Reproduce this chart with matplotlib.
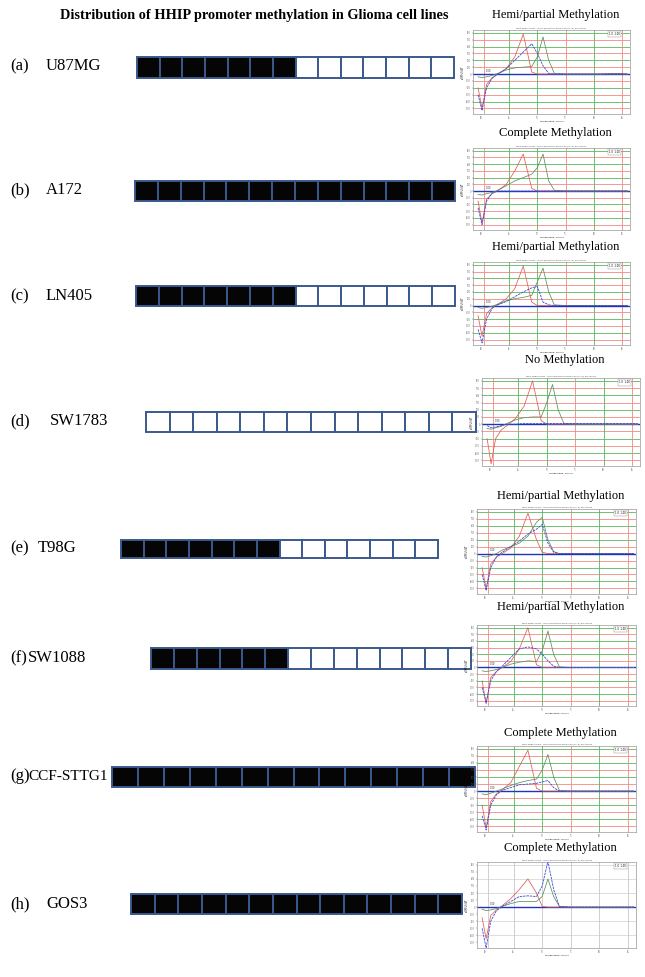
import matplotlib.pyplot as plt
from matplotlib.patches import Rectangle

plt.rcParams['font.family'] = ['Liberation Serif', 'DejaVu Serif']

# ---- data ----
panel_letters = ['(a)', '(b)', '(c)', '(d)', '(e)', '(f)', '(g)', '(h)']
cell_lines = ['U87MG', 'A172', 'LN405', 'SW1783', 'T98G', 'SW1088', 'CCF-STTG1', 'GOS3']
n_sites = 14
methylated_sites = [7, 14, 7, 0, 7, 6, 14, 14]
status = ['Hemi/partial Methylation', 'Complete Methylation', 'Hemi/partial Methylation',
          'No Methylation', 'Hemi/partial Methylation', 'Hemi/partial Methylation',
          'Complete Methylation', 'Complete Methylation']

# melt peak curves (-dF/dT), shared temperature grid
temps = [59.5, 60.2, 61.0, 62.0, 63.0, 64.5, 66.0, 67.5, 69.0, 70.0, 71.0, 72.0, 73.0, 75.0, 78.0, 81.0, 84.0, 86.0]
red_curves = [
    [-2.0, -5.0, -1.5, -0.5, 0.0, 0.8, 2.5, 5.8, 0.3, 0, 0, 0, 0, 0, 0, 0, 0.1, 0],
    [-1.5, -4.8, -1.2, -0.4, 0.1, 1.0, 3.0, 5.5, 0.4, 0, 0, 0, 0, 0, 0, 0, 0, 0],
    [-1.5, -4.5, -1.2, -0.3, 0.2, 1.0, 2.5, 5.8, 0.5, 0, 0, 0, 0, 0, 0, 0, 0, 0],
    [-2.0, -5.5, -2.0, -0.8, -0.2, 0.8, 2.5, 6.0, 0.5, 0, 0, 0, 0, 0, 0, 0, 0, 0],
    [-2.0, -5.0, -1.5, -0.5, 0.0, 0.8, 2.5, 5.8, 2.0, 0.2, 0, 0, 0, 0, 0, 0, 0, 0],
    [-2.0, -5.5, -1.5, -0.6, 0.0, 0.9, 2.8, 6.0, 0.4, 0, 0, 0, 0, 0, 0, 0, 0, 0],
    [-2.0, -5.2, -1.5, -0.4, 0.2, 1.2, 3.5, 5.8, 0.4, 0, 0, 0, 0, 0, 0, 0, 0, 0],
    [-1.5, -4.5, -1.2, -0.4, 0.2, 1.2, 2.5, 4.0, 2.0, 0.1, 0, 0, 0, 0, 0, 0, 0, 0],
]
green_curves = [
    [-0.4, -0.5, -0.4, -0.2, 0.1, 0.6, 0.9, 1.0, 1.1, 2.5, 5.4, 2.0, 0.1, 0, 0, 0, 0, 0],
    [-0.5, -0.6, -0.4, -0.2, 0.1, 0.8, 1.5, 2.0, 2.5, 3.5, 5.5, 1.5, 0.1, 0, 0, 0, 0, 0],
    [-0.3, -0.4, -0.3, -0.1, 0.2, 0.7, 1.0, 1.2, 1.5, 3.5, 5.5, 2.0, 0.1, 0, 0, 0, 0, 0],
    [-0.6, -0.7, -0.5, -0.3, 0.1, 0.6, 0.9, 1.0, 1.0, 3.0, 5.5, 2.0, 0.1, 0, 0, 0, 0, 0],
    [-0.4, -0.5, -0.3, 0.0, 0.5, 1.0, 1.5, 2.5, 4.5, 5.2, 2.0, 0.3, 0, 0, 0, 0, 0, 0],
    [-0.5, -0.6, -0.5, -0.3, 0.0, 0.5, 0.8, 1.0, 0.9, 2.5, 5.5, 2.0, 0.1, 0, 0, 0, 0, 0],
    [-0.4, -0.5, -0.3, 0.0, 0.3, 0.8, 1.2, 1.5, 1.7, 3.0, 5.2, 2.0, 0.1, 0, 0, 0, 0, 0],
    [-0.3, -0.5, -0.4, -0.2, 0.1, 0.5, 0.8, 0.8, 0.8, 1.5, 4.0, 1.5, 0.1, 0, 0, 0, 0, 0],
]
blue_curves = [
    [-3.0, -5.3, -2.0, -0.6, 0.0, 0.8, 2.0, 3.2, 4.4, 3.0, 1.2, 0.1, 0, 0, 0, 0, 0.05, 0],
    [-2.5, -5.0, -1.5, -0.3, 0, 0, 0, 0, 0, 0, 0, 0, 0, 0, 0, 0, 0, 0],
    [-3.5, -5.5, -2.0, -0.4, 0.1, 0.6, 1.3, 2.0, 2.6, 2.8, 0.5, 0.1, 0, 0, 0, 0, 0, 0],
    [-0.2, -0.5, -0.4, -0.2, 0, 0, 0.1, 0.1, 0.1, 0.1, 0.1, 0.1, 0.1, 0.1, 0.1, 0.1, 0.1, 0.1],
    [-3.0, -5.3, -2.0, -0.5, 0.2, 1.0, 1.8, 2.8, 3.5, 4.2, 1.5, 0.2, 0, 0, 0, 0, 0, 0],
    [-3.0, -5.3, -2.0, -0.6, 0.2, 1.5, 2.8, 3.1, 2.8, 2.0, 1.0, 0.2, 0, 0, 0, 0, 0, 0],
    [-3.5, -5.5, -2.0, -0.5, 0.1, 0.5, 0.9, 1.0, 1.1, 1.3, 1.5, 0.5, 0, 0, 0, 0, 0, 0],
    [-3.0, -5.8, -2.0, -0.5, 0.1, 0.8, 1.5, 1.6, 1.5, 3.0, 6.5, 2.5, 0.1, 0, 0, 0, 0, 0],
]

# ---- layout (pixels, origin top-left) ----
W, H = 645, 977
label_y = [66, 190, 296, 421, 548, 658, 776, 904]
letter_x = [10, 10, 10, 10, 10, 10, 10, 10]
name_x = [46, 46, 46, 50, 38, 28, 28, 46]
box_rows = [(137, 454, 57, 78), (135, 455, 181, 201), (136, 455, 286, 306), (146, 476, 412, 432),
            (121, 438, 540, 558), (151, 471, 648, 669), (112, 475, 767, 787), (131, 462, 894, 914)]
panel_boxes = [(473, 630, 30, 114), (473, 630, 148, 230), (473, 630, 262, 345), (482, 640, 378, 466),
               (477, 636, 509, 594), (477, 636, 625, 706), (477, 636, 746, 832), (477, 636, 862, 948)]
title_y = [15, 133, 247, 360, 496, 607, 733, 848]

fig = plt.figure(figsize=(W / 100, H / 100), dpi=100)
ov = fig.add_axes([0, 0, 1, 1])
ov.set_xlim(0, W)
ov.set_ylim(H, 0)
ov.axis('off')

ov.text(254, 15, 'Distribution of HHIP promoter methylation in Glioma cell lines',
        ha='center', va='center', fontsize=10.3, fontweight='bold')

for i in range(8):
    ov.text(letter_x[i], label_y[i], panel_letters[i], ha='left', va='center', fontsize=12)
    ov.text(name_x[i], label_y[i], cell_lines[i], ha='left', va='center',
            fontsize=11 if i == 6 else 12)
    x0, x1, y0, y1 = box_rows[i]
    w = (x1 - x0) / n_sites
    for k in range(n_sites):
        fc = '#050505' if k < methylated_sites[i] else 'white'
        ov.add_patch(Rectangle((x0 + k * w, y0), w, y1 - y0, facecolor=fc,
                               edgecolor='#3a5a8c', lw=1.4))
    px0, px1, py0, py1 = panel_boxes[i]
    ov.text((px0 + px1) / 2 + 4, title_y[i], status[i], ha='center', va='center', fontsize=9)

green_c = '#58b85c'
red_c = '#f08a84'
for i in range(8):
    px0, px1, py0, py1 = panel_boxes[i]
    ax = fig.add_axes([px0 / W, 1 - py1 / H, (px1 - px0) / W, (py1 - py0) / H])
    ax.set_xlim(58.6, 86.4)
    ax.set_ylim(-5.8, 6.4)
    gray = (i == 7)
    for yv in range(-5, 7):
        if gray:
            if yv % 2 == 0:
                ax.axhline(yv, color='#d0d0d0', lw=0.5, zorder=0)
        else:
            ax.axhline(yv, color=green_c if yv % 2 == 0 else red_c, lw=0.6, zorder=0)
    vcols = [red_c, green_c, green_c, red_c, green_c, red_c]
    for j, xv in enumerate([60.5, 65, 70, 75, 80, 85]):
        ax.axvline(xv, color='#c8c8c8' if gray else vcols[j], lw=0.6, zorder=0)
    ax.axhline(0, color='#2233bb', lw=1.0, zorder=1)
    ax.plot(temps, red_curves[i], color='#e05a55', lw=0.55, zorder=3)
    ax.plot(temps, green_curves[i], color='#5a8f5a', lw=0.55, zorder=3)
    ax.plot(temps, blue_curves[i], color='#3a4ad8', lw=0.6, ls=(0, (3, 1)), zorder=4)
    ax.set_xticks([60, 65, 70, 75, 80, 85])
    ax.set_yticks(range(-5, 7))
    ax.tick_params(labelsize=1.8, length=1.0, width=0.3, pad=0.6, colors='#555555')
    ax.set_yticklabels([str(v * 100) for v in range(-5, 7)])
    ax.set_xlabel('Temperature, Celsius', fontsize=1.6, labelpad=0.3, family='DejaVu Sans')
    ax.set_ylabel('-d(RFU)/dT', fontsize=1.8, labelpad=0.6, family='DejaVu Sans')
    for s in ax.spines.values():
        s.set_color('#999999')
        s.set_linewidth(0.5)
    ax.text(0.5, 1.01, 'Melt Peak Chart - HHIP promoter amplicon (n=2) 80 cycles',
            transform=ax.transAxes, ha='center', va='bottom', fontsize=1.7,
            family='DejaVu Sans', color='#444444')
    ax.text(0.9, 0.95, '1.0  1.00', transform=ax.transAxes, ha='center', va='center',
            fontsize=1.8, family='DejaVu Sans',
            bbox=dict(facecolor='white', edgecolor='#888888', lw=0.3, pad=0.8))
    ax.text(60.8, 0.35, '1.00', fontsize=1.8, family='DejaVu Sans', color='#333333')
    ax.set_facecolor('white')

fig.savefig('out.png', dpi=100)
